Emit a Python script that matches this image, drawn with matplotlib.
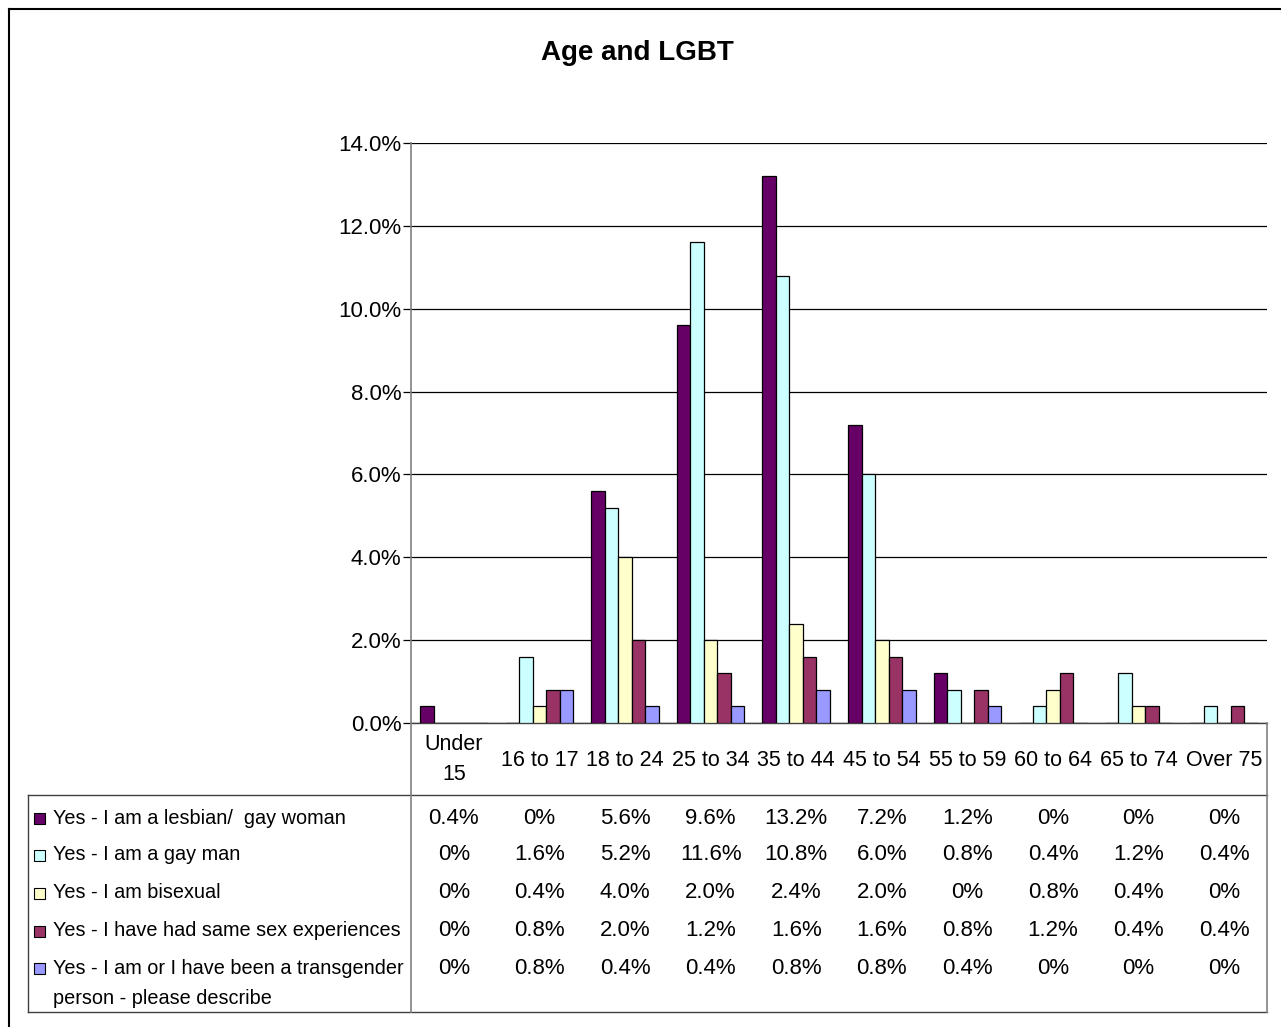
import matplotlib
matplotlib.use("Agg")
import matplotlib.pyplot as plt
from matplotlib.lines import Line2D
from matplotlib.patches import Rectangle
import matplotlib.transforms as mtransforms
import numpy as np

plt.rcParams['font.family'] = ['Liberation Sans', 'DejaVu Sans']

categories = ["Under\n15", "16 to 17", "18 to 24", "25 to 34", "35 to 44",
              "45 to 54", "55 to 59", "60 to 64", "65 to 74", "Over 75"]
series_names = ["Yes - I am a lesbian/  gay woman",
                "Yes - I am a gay man",
                "Yes - I am bisexual",
                "Yes - I have had same sex experiences",
                "Yes - I am or I have been a transgender\nperson - please describe"]
lesbian = [0.4, 0, 5.6, 9.6, 13.2, 7.2, 1.2, 0, 0, 0]
gay_man = [0, 1.6, 5.2, 11.6, 10.8, 6.0, 0.8, 0.4, 1.2, 0.4]
bisexual = [0, 0.4, 4.0, 2.0, 2.4, 2.0, 0, 0.8, 0.4, 0]
same_sex = [0, 0.8, 2.0, 1.2, 1.6, 1.6, 0.8, 1.2, 0.4, 0.4]
transgender = [0, 0.8, 0.4, 0.4, 0.8, 0.8, 0.4, 0, 0, 0]
colors = ["#660066", "#CCFFFF", "#FFFFCC", "#993366", "#9999FF"]
yticks = [0, 2, 4, 6, 8, 10, 12, 14]

all_series = [lesbian, gay_man, bisexual, same_sex, transgender]

W, H = 1281, 1027
fig = plt.figure(figsize=(W / 100, H / 100), dpi=100)

def fx(x):
    return x / W

def fy(y):
    return 1 - y / H

# plot area in pixels
L, R, T, B = 411, 1267, 143, 723
ax = fig.add_axes([fx(L), fy(B), fx(R) - fx(L), fy(T) - fy(B)])
ax.set_xlim(0, len(categories))
ax.set_ylim(0, 14)

bw = 0.158
x = np.arange(len(categories)) + 0.5
for k, (vals, col) in enumerate(zip(all_series, colors)):
    ax.bar(x + (k - 2) * bw, vals, width=bw, color=col, edgecolor='black',
           linewidth=0.9, zorder=3)

ax.set_yticks(yticks)
ax.set_yticklabels([f"{v:.1f}%" for v in yticks], fontsize=16)
ax.yaxis.grid(True, color='black', linewidth=0.9, zorder=0)
ax.set_xticks([])
ax.tick_params(axis='y', length=6, width=0.9, pad=1)
for s in ['top', 'right']:
    ax.spines[s].set_visible(False)
ax.spines['left'].set_color('#808080')
ax.spines['left'].set_linewidth(1.2)
ax.spines['bottom'].set_color('#404040')
ax.spines['bottom'].set_linewidth(1.0)

fig.text(fx(637), fy(53), "Age and LGBT", ha='center', va='center',
         fontsize=20, fontweight='bold')

# data table under the chart
tr = mtransforms.blended_transform_factory(ax.transData, fig.transFigure)
for i, c in enumerate(categories):
    lines = c.split("\n")
    if len(lines) == 1:
        ax.text(x[i], fy(760), c, transform=tr, ha='center', va='center', fontsize=15.5)
    else:
        for j, ln in enumerate(lines):
            ax.text(x[i], fy(745 + 29 * j), ln, transform=tr, ha='center',
                    va='center', fontsize=15.5)

row_y = [818, 855, 893, 931, 968]
for k, vals in enumerate(all_series):
    for i, v in enumerate(vals):
        s = "0%" if v == 0 else f"{v:.1f}%"
        ax.text(x[i], fy(row_y[k]), s, transform=tr, ha='center', va='center',
                fontsize=16)
    fig.patches.append(Rectangle((fx(34), fy(row_y[k] + 6)), fx(11), 11 / H,
                                 transform=fig.transFigure, facecolor=colors[k],
                                 edgecolor='black', linewidth=0.8))
    for j, ln in enumerate(series_names[k].split("\n")):
        fig.text(fx(53), fy(row_y[k] + 31 * j), ln, ha='left', va='center',
                 fontsize=14.3)

def hline(y, x0, x1, color='#404040', lw=1.0):
    fig.add_artist(Line2D([fx(x0), fx(x1)], [fy(y), fy(y)], color=color, lw=lw,
                          transform=fig.transFigure))

def vline(x0, y0, y1, color='#404040', lw=1.0):
    fig.add_artist(Line2D([fx(x0), fx(x0)], [fy(y0), fy(y1)], color=color, lw=lw,
                          transform=fig.transFigure))

hline(795, 28, R)
hline(1012, 28, R)
vline(28, 795, 1012)
vline(L, B, 1012, color='#808080', lw=1.2)
vline(R, B, 1012, color='#808080', lw=1.2)

# outer chart border
vline(9, 9, H, color='black', lw=1.5)
hline(9, 9, W, color='black', lw=1.5)

fig.savefig("out.png", dpi=100, facecolor='white')
